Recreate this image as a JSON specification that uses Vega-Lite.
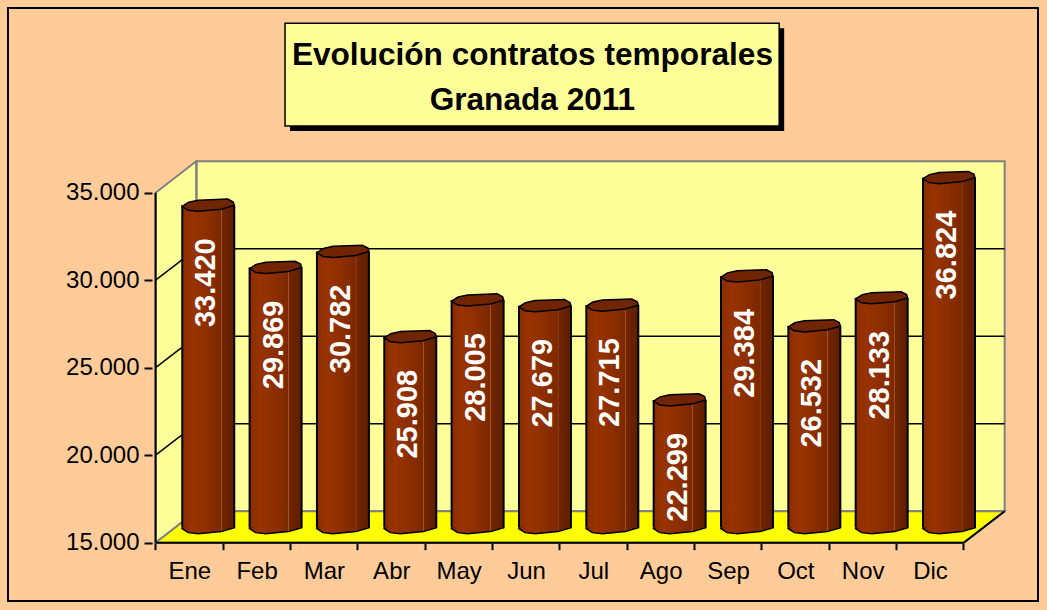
{
  "$schema": "https://vega.github.io/schema/vega-lite/v6.json",
  "width": 1030,
  "height": 593,
  "autosize": {"type": "none"},
  "padding": {"left": 8, "top": 8, "right": 9, "bottom": 9},
  "background": "#FFCC99",
  "config": {
    "view": {"stroke": "#000000", "strokeWidth": 2, "fill": "#FFCC99"},
    "locale": {"number": {"decimal": ",", "thousands": ".", "grouping": [3], "currency": ["", " €"]}},
    "font": "Liberation Sans"
  },
  "datasets": {
    "contratos": [
      {"i": 1, "mes": "Ene", "v": 33420},
      {"i": 2, "mes": "Feb", "v": 29869},
      {"i": 3, "mes": "Mar", "v": 30782},
      {"i": 4, "mes": "Abr", "v": 25908},
      {"i": 5, "mes": "May", "v": 28005},
      {"i": 6, "mes": "Jun", "v": 27679},
      {"i": 7, "mes": "Jul", "v": 27715},
      {"i": 8, "mes": "Ago", "v": 22299},
      {"i": 9, "mes": "Sep", "v": 29384},
      {"i": 10, "mes": "Oct", "v": 26532},
      {"i": 11, "mes": "Nov", "v": 28133},
      {"i": 12, "mes": "Dic", "v": 36824}
    ],
    "rejilla": [{"v": 20000}, {"v": 25000}, {"v": 30000}],
    "pared": [
      {"u": 0.5, "arriba": 35000, "abajo": 15000},
      {"u": 1.103, "arriba": 36800, "abajo": 16800}
    ],
    "suelo": [
      {"v": 15000, "izq": 0.5, "der": 12.5},
      {"v": 16800, "izq": 1.103, "der": 13.103}
    ]
  },
  "layer": [
    {
      "layer": [
        {
          "data": {"values": [{}]},
          "mark": {"type": "rect", "fill": "#FFFF99", "stroke": "#808080", "strokeWidth": 2, "xOffset": 41, "x2Offset": 41, "yOffset": -31.5, "y2Offset": -31.5},
          "encoding": {
            "x": {"datum": 0.5, "type": "quantitative", "scale": {"domain": [-1.6176, 13.5294], "nice": false, "zero": false},
              "axis": {"values": [1, 2, 3, 4, 5, 6, 7, 8, 9, 10, 11, 12, 13], "title": null, "domain": false, "grid": false, "offset": -58.3, "tickOffset": -34, "labelOffset": 34, "tickSize": 7, "tickWidth": 2, "tickColor": "#000000", "labelFontSize": 24, "labelColor": "#000000", "labelFont": "Liberation Sans", "labelPadding": 10, "labelFlush": false, "labelOverlap": false, "labelBound": false,
                "labelExpr": "['','Ene','Feb','Mar','Abr','May','Jun','Jul','Ago','Sep','Oct','Nov','Dic',''][datum.value]"}},
            "x2": {"datum": 12.5},
            "y": {"datum": 15000, "type": "quantitative", "scale": {"domain": [11669, 45555], "nice": false, "zero": false},
              "axis": {"values": [15000, 20000, 25000, 30000, 35000], "title": null, "labelExpr": "replace(format(datum.value, ',d'), ',', '.')", "domain": false, "grid": false, "offset": -144, "tickSize": 8, "tickWidth": 2, "tickColor": "#000000", "labelFontSize": 24, "labelColor": "#000000", "labelFont": "Liberation Sans", "labelPadding": 5, "labelFlush": false, "labelOverlap": false, "labelBound": false}},
            "y2": {"datum": 35000}
          }
        },
        {
          "data": {"name": "pared"},
          "mark": {"type": "area", "orient": "vertical", "fill": "#FFFF99", "stroke": "#808080", "strokeWidth": 2},
          "encoding": {
            "x": {"field": "u", "type": "quantitative", "title": null, "scale": {"domain": [-1.6176, 13.5294], "nice": false, "zero": false}},
            "y": {"field": "arriba", "type": "quantitative", "title": null, "scale": {"domain": [11669, 45555], "nice": false, "zero": false}},
            "y2": {"field": "abajo"}
          }
        },
        {
          "data": {"name": "rejilla"},
          "mark": {"type": "rule", "color": "#000000", "strokeWidth": 1.5, "xOffset": 41, "x2Offset": 41, "yOffset": -31.5},
          "encoding": {
            "x": {"datum": 0.5, "type": "quantitative", "scale": {"domain": [-1.6176, 13.5294], "nice": false, "zero": false}},
            "x2": {"datum": 12.5},
            "y": {"field": "v", "type": "quantitative", "title": null, "scale": {"domain": [11669, 45555], "nice": false, "zero": false}}
          }
        },
        {
          "data": {"name": "rejilla"},
          "mark": {"type": "rule", "color": "#000000", "strokeWidth": 1.5, "x2Offset": 41, "y2Offset": -31.5},
          "encoding": {
            "x": {"datum": 0.5, "type": "quantitative", "scale": {"domain": [-1.6176, 13.5294], "nice": false, "zero": false}},
            "x2": {"datum": 0.5},
            "y": {"field": "v", "type": "quantitative", "title": null, "scale": {"domain": [11669, 45555], "nice": false, "zero": false}},
            "y2": {"field": "v"}
          }
        },
        {
          "data": {"name": "suelo"},
          "mark": {"type": "area", "orient": "horizontal", "fill": "#FFFF00", "stroke": "#808080", "strokeWidth": 2},
          "encoding": {
            "y": {"field": "v", "type": "quantitative", "title": null, "scale": {"domain": [11669, 45555], "nice": false, "zero": false}},
            "x": {"field": "izq", "type": "quantitative", "title": null, "scale": {"domain": [-1.6176, 13.5294], "nice": false, "zero": false}},
            "x2": {"field": "der"}
          }
        },
        {
          "data": {"values": [{}]},
          "mark": {"type": "rule", "color": "#000000", "strokeWidth": 2},
          "encoding": {
            "x": {"datum": 0.5, "type": "quantitative", "scale": {"domain": [-1.6176, 13.5294], "nice": false, "zero": false}},
            "y": {"datum": 15000, "type": "quantitative", "scale": {"domain": [11669, 45555], "nice": false, "zero": false}},
            "y2": {"datum": 35000}
          }
        },
        {
          "data": {"values": [{}]},
          "mark": {"type": "rule", "color": "#000000", "strokeWidth": 2},
          "encoding": {
            "x": {"datum": 0.5, "type": "quantitative", "scale": {"domain": [-1.6176, 13.5294], "nice": false, "zero": false}},
            "x2": {"datum": 12.5},
            "y": {"datum": 15000, "type": "quantitative", "scale": {"domain": [11669, 45555], "nice": false, "zero": false}}
          }
        },
        {
          "data": {"values": [{}]},
          "mark": {"type": "rule", "color": "#000000", "strokeWidth": 2, "x2Offset": 41, "y2Offset": -31.5},
          "encoding": {
            "x": {"datum": 12.5, "type": "quantitative", "scale": {"domain": [-1.6176, 13.5294], "nice": false, "zero": false}},
            "x2": {"datum": 12.5},
            "y": {"datum": 15000, "type": "quantitative", "scale": {"domain": [11669, 45555], "nice": false, "zero": false}},
            "y2": {"datum": 15000}
          }
        },
        {
          "data": {"values": [{}]},
          "mark": {"type": "rect", "fill": "#000000", "xOffset": 5, "x2Offset": 5, "yOffset": 5, "y2Offset": 5},
          "encoding": {
            "x": {"datum": 2.422, "type": "quantitative", "scale": {"domain": [-1.6176, 13.5294], "nice": false, "zero": false}},
            "x2": {"datum": 9.76},
            "y": {"datum": 44680, "type": "quantitative", "scale": {"domain": [11669, 45555], "nice": false, "zero": false}},
            "y2": {"datum": 38811}
          }
        },
        {
          "data": {"values": [{}]},
          "mark": {"type": "rect", "fill": "#FFFF99", "stroke": "#000000", "strokeWidth": 1.5},
          "encoding": {
            "x": {"datum": 2.422, "type": "quantitative", "scale": {"domain": [-1.6176, 13.5294], "nice": false, "zero": false}},
            "x2": {"datum": 9.76},
            "y": {"datum": 44680, "type": "quantitative", "scale": {"domain": [11669, 45555], "nice": false, "zero": false}},
            "y2": {"datum": 38811}
          }
        },
        {
          "data": {"values": [{}]},
          "mark": {"type": "text", "text": ["Evolución contratos temporales", "Granada 2011"], "font": "Liberation Sans", "fontSize": 31.6, "fontWeight": "bold", "lineHeight": 45, "align": "center", "baseline": "alphabetic", "color": "#000000"},
          "encoding": {
            "x": {"datum": 6.096, "type": "quantitative", "scale": {"domain": [-1.6176, 13.5294], "nice": false, "zero": false}},
            "y": {"datum": 42297, "type": "quantitative", "scale": {"domain": [11669, 45555], "nice": false, "zero": false}}
          }
        }
      ]
    },
    {
      "data": {"name": "contratos"},
      "layer": [
        {
          "mark": {"type": "point", "shape": "M-1,0.04L-0.75,-0.12L-0.38,-0.2L0.75,-0.24L0.96,-0.13L1,0L0.5,0.15L-0.38,0.23L-0.77,0.19Z", "size": 2704, "filled": true, "opacity": 1,
            "fill": {"gradient": "linear", "x1": 0, "y1": 0, "x2": 1, "y2": 0, "stops": [{"offset": 0, "color": "#8A2D00"}, {"offset": 0.2, "color": "#993300"}, {"offset": 0.45, "color": "#8E2F00"}, {"offset": 0.74, "color": "#7C2800"}, {"offset": 0.75, "color": "#B0602A"}, {"offset": 0.765, "color": "#722500"}, {"offset": 1, "color": "#5E1E00"}]},
            "stroke": "#000000", "strokeWidth": 1.5, "xOffset": 19, "yOffset": -15},
          "encoding": {
            "x": {"field": "i", "type": "quantitative", "title": null, "scale": {"domain": [-1.6176, 13.5294], "nice": false, "zero": false}},
            "y": {"datum": 15000, "type": "quantitative", "axis": null, "scale": {"domain": [11669, 35000], "range": [593, 184.7], "clamp": true, "nice": false, "zero": false}}
          }
        },
        {
          "mark": {"type": "bar", "size": 52, "xOffset": 19, "yOffset": -15, "y2Offset": -15,
            "fill": {"gradient": "linear", "x1": 0, "y1": 0, "x2": 1, "y2": 0, "stops": [{"offset": 0, "color": "#8A2D00"}, {"offset": 0.2, "color": "#993300"}, {"offset": 0.45, "color": "#8E2F00"}, {"offset": 0.74, "color": "#7C2800"}, {"offset": 0.75, "color": "#B0602A"}, {"offset": 0.765, "color": "#722500"}, {"offset": 1, "color": "#5E1E00"}]}},
          "encoding": {
            "x": {"field": "i", "type": "quantitative", "title": null, "scale": {"domain": [-1.6176, 13.5294], "nice": false, "zero": false}},
            "y": {"field": "v", "type": "quantitative", "axis": null, "scale": {"domain": [11669, 35000], "range": [593, 184.7], "clamp": true, "nice": false, "zero": false}},
            "y2": {"datum": 15000}
          }
        },
        {
          "mark": {"type": "rule", "color": "#000000", "strokeWidth": 2, "xOffset": -7, "yOffset": -15, "y2Offset": -15},
          "encoding": {
            "x": {"field": "i", "type": "quantitative", "title": null, "scale": {"domain": [-1.6176, 13.5294], "nice": false, "zero": false}},
            "y": {"field": "v", "type": "quantitative", "axis": null, "scale": {"domain": [11669, 35000], "range": [593, 184.7], "clamp": true, "nice": false, "zero": false}},
            "y2": {"datum": 15000}
          }
        },
        {
          "mark": {"type": "rule", "color": "#000000", "strokeWidth": 2, "xOffset": 45, "yOffset": -15, "y2Offset": -15},
          "encoding": {
            "x": {"field": "i", "type": "quantitative", "title": null, "scale": {"domain": [-1.6176, 13.5294], "nice": false, "zero": false}},
            "y": {"field": "v", "type": "quantitative", "axis": null, "scale": {"domain": [11669, 35000], "range": [593, 184.7], "clamp": true, "nice": false, "zero": false}},
            "y2": {"datum": 15000}
          }
        },
        {
          "mark": {"type": "point", "shape": "M-1,0.04L-0.75,-0.12L-0.38,-0.2L0.75,-0.24L0.96,-0.13L1,0L0.5,0.15L-0.38,0.23L-0.77,0.19Z", "size": 2704, "filled": true, "opacity": 1, "fill": "#702500", "stroke": "#000000", "strokeWidth": 1.5, "xOffset": 19, "yOffset": -15},
          "encoding": {
            "x": {"field": "i", "type": "quantitative", "title": null, "scale": {"domain": [-1.6176, 13.5294], "nice": false, "zero": false}},
            "y": {"field": "v", "type": "quantitative", "axis": null, "scale": {"domain": [11669, 35000], "range": [593, 184.7], "clamp": true, "nice": false, "zero": false}}
          }
        },
        {
          "mark": {"type": "text", "angle": 270, "align": "right", "baseline": "middle", "font": "Liberation Sans", "fontSize": 29, "fontWeight": "bold", "color": "#FFFFFF", "xOffset": 17, "yOffset": 18},
          "encoding": {
            "x": {"field": "i", "type": "quantitative", "title": null, "scale": {"domain": [-1.6176, 13.5294], "nice": false, "zero": false}},
            "y": {"field": "v", "type": "quantitative", "axis": null, "scale": {"domain": [11669, 35000], "range": [593, 184.7], "clamp": true, "nice": false, "zero": false}},
            "text": {"field": "v", "type": "quantitative", "format": ","}
          }
        }
      ]
    }
  ],
  "resolve": {"scale": {"y": "independent"}}
}
